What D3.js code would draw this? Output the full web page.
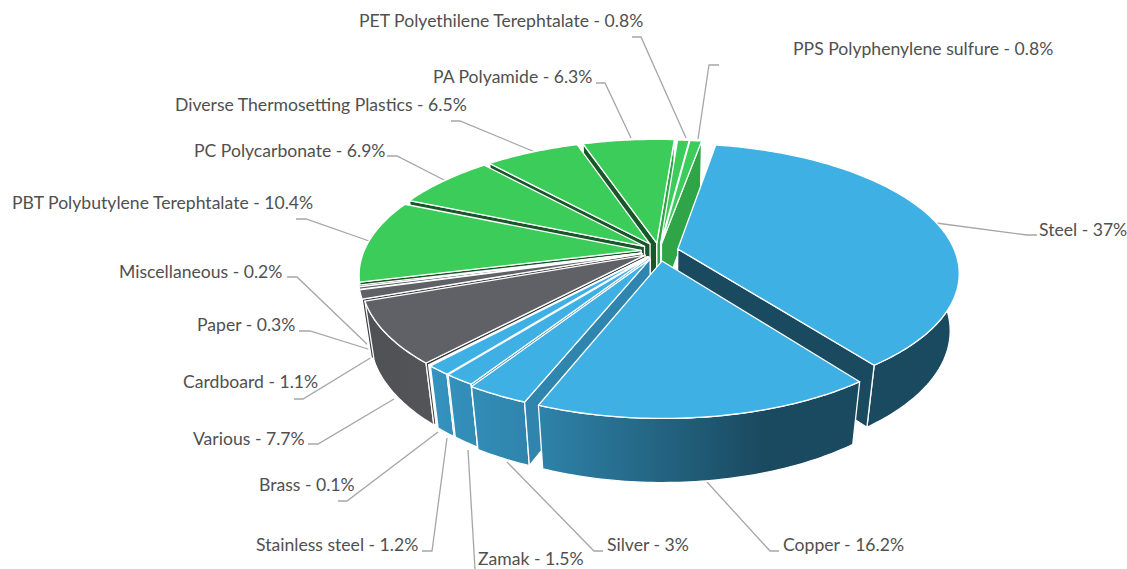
<!DOCTYPE html>
<html lang="en">
	<head>
		<meta charset="utf-8">
		<title>Material shares</title>
		<script src="https://cdn.jsdelivr.net/npm/d3@7"></script>
		<style>
			html, body { margin: 0; padding: 0; background: #fff; }
			svg { display: block; }
			text { font-family: "Lato", sans-serif; font-size: 17.6px; fill: #505050; dominant-baseline: central; }
		</style>
	</head>
	<body>
		<script>
			// Data, clockwise from the top
			var categories = ["Steel", "Copper", "Silver", "Zamak", "Stainless steel", "Brass", "Various", "Cardboard", "Paper", "Miscellaneous",
				"PBT Polybutylene Terephtalate", "PC Polycarbonate", "Diverse Thermosetting Plastics", "PA Polyamide", "PET Polyethilene Terephtalate", "PPS Polyphenylene sulfure"];
			var values = [37, 16.2, 3, 1.5, 1.2, 0.1, 7.7, 1.1, 0.3, 0.2, 10.4, 6.9, 6.5, 6.3, 0.8, 0.8];
			var groups = ["metal", "metal", "metal", "metal", "metal", "metal", "other", "other", "other", "other",
				"plastic", "plastic", "plastic", "plastic", "plastic", "plastic"];

			// How far each slice is pulled out, fraction of the radius
			var explode = [0.07, 0.08, 0.07, 0.06, 0.06, 0.06, 0.06, 0.065, 0.065, 0.065, 0.065, 0.065, 0.065, 0.065, 0.06, 0.06];

			// Label placement: text x, text y, then the leader line
			var labelLeft = [1039, 783, 607, 478, 256, 259, 193, 183, 197, 119, 12, 194, 175, 433, 359, 793];
			var labelY = [229, 544, 544, 558, 544, 484, 438, 381, 324, 271, 202, 150, 104, 76, 20, 48];
			var leaders = [
				[[936, 223], [1027, 235], [1037, 235]],
				[[707, 482], [770, 551], [779, 551]],
				[[507, 462], [594, 551], [603, 551]],
				[[468, 450], [475, 569]],
				[[447, 438], [432, 551], [422, 551]],
				[[438, 432], [347, 501], [338, 501]],
				[[394, 399], [318, 444], [308, 444]],
				[[372, 357], [303, 399], [294, 399]],
				[[371, 350], [310, 331], [299, 331]],
				[[370, 347], [297, 277], [287, 277]],
				[[372, 242], [306, 219], [296, 219]],
				[[446, 181], [397, 156], [387, 156]],
				[[535, 152], [460, 121], [451, 121]],
				[[631, 138], [605, 83], [596, 83]],
				[[686, 138], [641, 37], [632, 37]],
				[[698, 139], [709, 65], [719, 65]]
			];

			var w = 1127;
			var h = 569;

			// Projection of the tilted disc
			var cx = 659, cy = 251, rx = 277, ry = 125, depth = 58.6;
			var persp = 0.18, taper = 0.03;
			var firstAngle = 10 * Math.PI / 180;

			// u,v on the disc plane (v towards the viewer), d = 0 top face, 1 bottom face
			function project(u, v, d) {
				var s = 1 / (1 - persp * v + taper * d);
				return [cx + rx * u * s, cy + ry * v * s + depth * d * s];
			}

			var topColor = { metal: "#3fb0e4", other: "#606166", plastic: "#3bcc5a" };
			var startWall = { metal: "#2f85ae", other: "#3a3a3d", plastic: "#17572a" };
			var endWall = { metal: "#1a4a60", other: "#3a3a3d", plastic: "#2fa548" };

			var svg = d3.select("body").append("svg")
				.attr("width", w)
				.attr("height", h);

			// Outer walls are shaded across the width of the picture
			var defs = svg.append("defs");
			function addGradient(id, stops) {
				var g = defs.append("linearGradient")
					.attr("id", id)
					.attr("gradientUnits", "userSpaceOnUse")
					.attr("x1", 360).attr("x2", 960).attr("y1", 0).attr("y2", 0);
				stops.forEach(function(s) {
					g.append("stop").attr("offset", s[0]).attr("stop-color", s[1]);
				});
			}
			addGradient("wall-metal", [[0, "#3a9bc9"], [0.12, "#3493bf"], [0.3, "#2e82a9"], [0.67, "#1a4a60"], [1, "#1a4a60"]]);
			addGradient("wall-other", [[0, "#4f5054"], [0.2, "#57585c"], [1, "#57585c"]]);
			addGradient("wall-plastic", [[0, "#2fa548"], [1, "#2fa548"]]);

			var line = d3.line();

			// Leader lines go under the pie
			svg.append("g").selectAll("path")
				.data(leaders)
				.enter()
				.append("path")
				.attr("d", function(d) { return line(d); })
				.attr("fill", "none")
				.attr("stroke", "#a6a6a6")
				.attr("stroke-width", 1.3);

			// Labels
			svg.append("g").selectAll("text")
				.data(categories)
				.enter()
				.append("text")
				.attr("x", function(d, i) { return labelLeft[i]; })
				.attr("y", function(d, i) { return labelY[i]; })
				.text(function(d, i) { return d + " - " + values[i] + "%"; });

			// Slices
			var pie = d3.pie().sort(null).startAngle(firstAngle).endAngle(firstAngle + 2 * Math.PI);
			var arcs = pie(values).map(function(a, i) {
				var mid = (a.startAngle + a.endAngle) / 2;
				var ox = explode[i] * Math.sin(mid);
				var oy = -explode[i] * Math.cos(mid);
				function rim(angle, d) {
					return project(ox + Math.sin(angle), oy - Math.cos(angle), d);
				}
				var steps = d3.range(0, Math.max(2, Math.ceil((a.endAngle - a.startAngle) * 60)) + 1);
				var n = steps[steps.length - 1];
				var angles = steps.map(function(k) { return a.startAngle + (a.endAngle - a.startAngle) * k / n; });
				return {
					i: i,
					group: groups[i],
					order: oy - Math.cos(mid),
					apexTop: project(ox, oy, 0),
					apexBottom: project(ox, oy, 1),
					topRim: angles.map(function(t) { return rim(t, 0); }),
					bottomRim: angles.map(function(t) { return rim(t, 1); })
				};
			});

			// Back to front
			arcs.sort(function(a, b) { return d3.ascending(a.order, b.order); });

			var slices = svg.append("g").selectAll("g")
				.data(arcs)
				.enter()
				.append("g")
				.attr("stroke", "#fff")
				.attr("stroke-width", 1.3)
				.attr("stroke-linejoin", "round");

			slices.each(function(d) {
				var g = d3.select(this);
				var last = d.topRim.length - 1;
				var start = [d.apexTop, d.topRim[0], d.bottomRim[0], d.apexBottom];
				var end = [d.apexTop, d.topRim[last], d.bottomRim[last], d.apexBottom];

				// rim first, it would otherwise paint over the side walls on the back slices
				g.append("path")
					.attr("d", line(d.topRim.concat(d.bottomRim.slice().reverse())) + "Z")
					.attr("fill", "url(#wall-" + d.group + ")");

				// only the walls that face the viewer
				if (d3.polygonArea(start) > 0) {
					g.append("path").attr("d", line(start) + "Z").attr("fill", startWall[d.group]);
				}
				if (d3.polygonArea(end) < 0) {
					g.append("path").attr("d", line(end) + "Z").attr("fill", endWall[d.group]);
				}
				g.append("path")
					.attr("d", line([d.apexTop].concat(d.topRim)) + "Z")
					.attr("fill", topColor[d.group]);
			});
		</script>
	</body>
</html>
